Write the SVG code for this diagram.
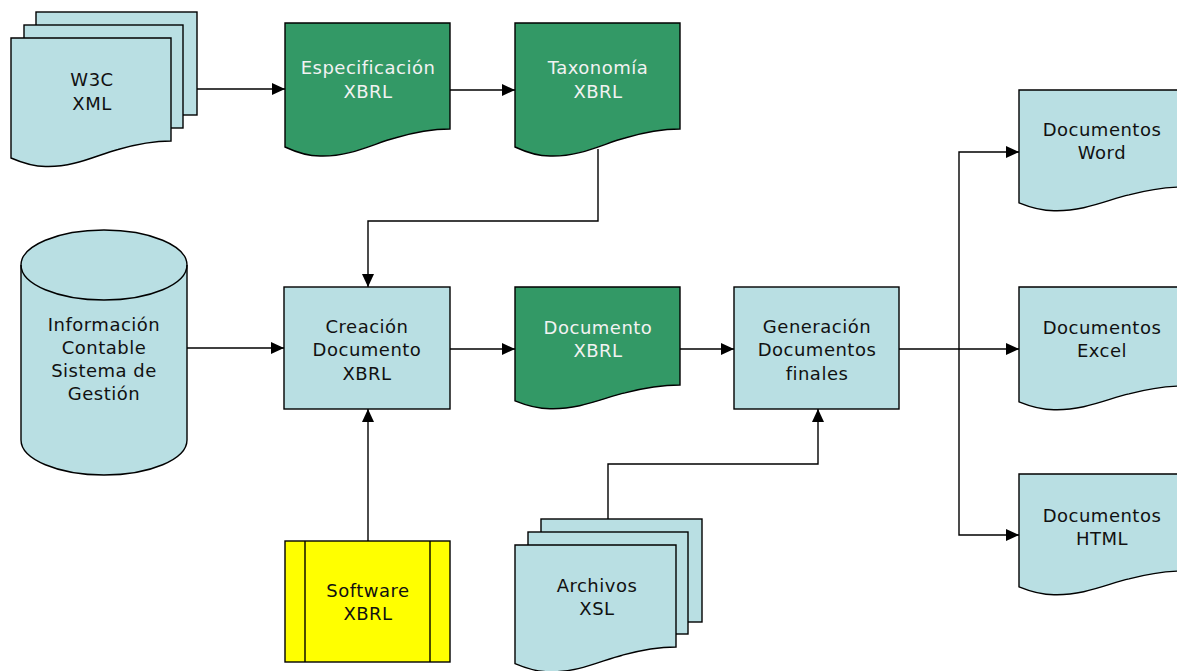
<svg xmlns="http://www.w3.org/2000/svg" width="1177" height="671" viewBox="0 0 1177 671">
<defs>
<marker id="arr" markerUnits="userSpaceOnUse" markerWidth="14" markerHeight="12" refX="13" refY="6" orient="auto">
<path d="M0,0 L13,6 L0,12 Z" fill="#000"/>
</marker>
<style>
.lb{fill:#B9DFE3;stroke:#000;stroke-width:1.4}
.gr{fill:#339966;stroke:#000;stroke-width:1.4}
.ye{fill:#FFFF00;stroke:#000;stroke-width:1.4}
.t{font-family:"DejaVu Sans",Verdana,sans-serif;font-size:18px;letter-spacing:0.5px;text-anchor:middle;fill:#111}
.tw{font-family:"DejaVu Sans",Verdana,sans-serif;font-size:18px;letter-spacing:0.5px;text-anchor:middle;fill:#F2F2F2}
.c{fill:none;stroke:#000;stroke-width:1.4;marker-end:url(#arr)}
.p{fill:none;stroke:#000;stroke-width:1.4}
</style>
</defs>
<rect width="1177" height="671" fill="#fff"/>

<g id="connectors">
<path class="c" d="M197,89 H285"/>
<path class="c" d="M450,90 H515"/>
<path class="c" d="M598,149 V221 H368 V287"/>
<path class="c" d="M187,348 H284"/>
<path class="c" d="M450,349 H515"/>
<path class="c" d="M680,349 H734"/>
<path class="c" d="M899,349 H1019"/>
<path class="c" d="M959,349 V152 H1019"/>
<path class="c" d="M959,349 V535 H1019"/>
<path class="c" d="M368,541 V409"/>
<path class="c" d="M608,519 V464 H818 V409"/>
</g>

<g id="w3c">
<rect class="lb" x="36" y="12" width="161" height="103"/>
<rect class="lb" x="24" y="25" width="159" height="103"/>
<path class="lb" d="M11,38 H171 V141 c -14.5,0 -34,3 -53,8.5 c -19.5,4.8 -43.5,18 -72.5,17 c -10,0 -19.5,-2 -34.5,-8.5 z"/>
<text class="t" x="92" y="86">W3C</text>
<text class="t" x="92" y="110">XML</text>
</g>

<g id="especificacion">
<path class="gr" d="M285,23 H450 V129 c -15,0 -35,3 -55,9 c -20,5 -45,19 -75,18 c -10,0 -20,-2 -35,-9 z"/>
<text class="tw" x="368" y="74">Especificación</text>
<text class="tw" x="368" y="97.5">XBRL</text>
</g>

<g id="taxonomia">
<path class="gr" d="M515,23 H680 V129 c -15,0 -35,3 -55,9 c -20,5 -45,19 -75,18 c -10,0 -20,-2 -35,-9 z"/>
<text class="tw" x="598" y="74">Taxonomía</text>
<text class="tw" x="598" y="97.5">XBRL</text>
</g>

<g id="informacion">
<path class="lb" d="M21,265 A83,35 0 0 1 187,265 V440 A83,35 0 0 1 21,440 Z"/>
<path class="p" d="M21,265 A83,35 0 0 0 187,265"/>
<text class="t" x="104" y="331">Información</text>
<text class="t" x="104" y="354">Contable</text>
<text class="t" x="104" y="377">Sistema de</text>
<text class="t" x="104" y="400">Gestión</text>
</g>

<g id="creacion">
<rect class="lb" x="284" y="287" width="166" height="122"/>
<text class="t" x="367" y="333">Creación</text>
<text class="t" x="367" y="356">Documento</text>
<text class="t" x="367" y="380">XBRL</text>
</g>

<g id="documento">
<path class="gr" d="M515,287 H680 V385 c -15,0 -35,2.6 -55,7.9 c -20,4.4 -45,16.7 -75,15.8 c -10,0 -20,-1.8 -35,-7.9 z"/>
<text class="tw" x="598" y="334">Documento</text>
<text class="tw" x="598" y="357">XBRL</text>
</g>

<g id="generacion">
<rect class="lb" x="734" y="287" width="165" height="122"/>
<text class="t" x="817" y="333">Generación</text>
<text class="t" x="817" y="356">Documentos</text>
<text class="t" x="817" y="380">finales</text>
</g>

<g id="word">
<path class="lb" d="M1019,90 H1184 V187 c -15,0 -35,2.6 -55,7.9 c -20,4.4 -45,16.7 -75,15.8 c -10,0 -20,-1.8 -35,-7.9 z"/>
<text class="t" x="1102" y="136">Documentos</text>
<text class="t" x="1102" y="159">Word</text>
</g>

<g id="excel">
<path class="lb" d="M1019,287 H1184 V386 c -15,0 -35,2.6 -55,7.9 c -20,4.4 -45,16.7 -75,15.8 c -10,0 -20,-1.8 -35,-7.9 z"/>
<text class="t" x="1102" y="334">Documentos</text>
<text class="t" x="1102" y="357">Excel</text>
</g>

<g id="html">
<path class="lb" d="M1019,474 H1184 V571 c -15,0 -35,2.6 -55,7.9 c -20,4.4 -45,16.7 -75,15.8 c -10,0 -20,-1.8 -35,-7.9 z"/>
<text class="t" x="1102" y="522">Documentos</text>
<text class="t" x="1102" y="545">HTML</text>
</g>

<g id="software">
<rect class="ye" x="285" y="541" width="165" height="121"/>
<line class="p" x1="305" y1="541" x2="305" y2="662"/>
<line class="p" x1="430" y1="541" x2="430" y2="662"/>
<text class="t" x="368" y="597">Software</text>
<text class="t" x="368" y="620">XBRL</text>
</g>

<g id="archivos">
<rect class="lb" x="541" y="519" width="161" height="103"/>
<rect class="lb" x="528" y="532" width="160" height="102"/>
<path class="lb" d="M515,545 H676 V647 c -14.6,0 -34.1,2.8 -53.7,8.2 c -19.5,4.7 -43.9,17.5 -73.2,16.6 c -9.8,0 -19.5,-1.9 -34.1,-8.2 z"/>
<text class="t" x="597" y="592">Archivos</text>
<text class="t" x="597" y="615">XSL</text>
</g>
</svg>
